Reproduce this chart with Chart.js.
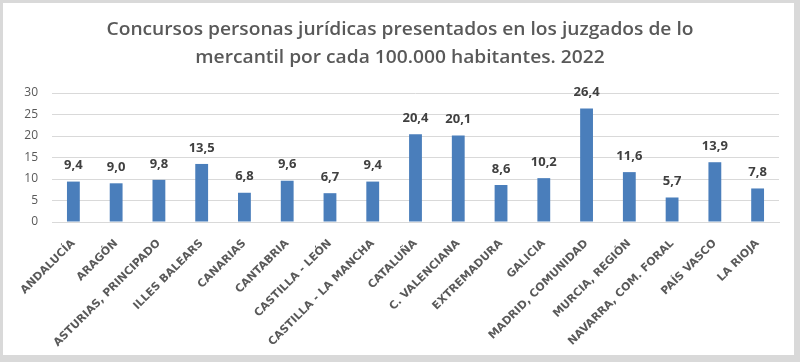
<!DOCTYPE html>
<html>
<head>
<meta charset="utf-8">
<script src="https://cdn.jsdelivr.net/npm/chart.js@4"></script>
<style>
    body { margin: 0; background: #d9d9d9; }
    #marco { position: absolute; left: 3px; top: 3px; width: 791px; height: 352px; background: #fff; }
</style>
</head>
<body>
<div id="marco"><canvas id="myChart"></canvas></div>
<script>
// Datos del gráfico
const comunidades = ['ANDALUCÍA', 'ARAGÓN', 'ASTURIAS, PRINCIPADO', 'ILLES BALEARS', 'CANARIAS', 'CANTABRIA',
    'CASTILLA - LEÓN', 'CASTILLA - LA MANCHA', 'CATALUÑA', 'C. VALENCIANA', 'EXTREMADURA', 'GALICIA',
    'MADRID, COMUNIDAD', 'MURCIA, REGIÓN', 'NAVARRA, COM. FORAL', 'PAÍS VASCO', 'LA RIOJA'];
const concursos = [9.4, 9.0, 9.8, 13.5, 6.8, 9.6, 6.7, 9.4, 20.4, 20.1, 8.6, 10.2, 26.4, 11.6, 5.7, 13.9, 7.8];
const ticksY = [0, 5, 10, 15, 20, 25, 30];
const titulo = ['Concursos personas jurídicas presentados en los juzgados de lo',
    'mercantil por cada 100.000 habitantes. 2022'];

const gris = '#595959';

// Título dibujado a mano para controlar la posición
const tituloPlugin = {
    id: 'tituloPlugin',
    afterDraw(chart) {
        const ctx = chart.ctx;
        ctx.save();
        ctx.fillStyle = gris;
        ctx.textAlign = 'center';
        ctx.textBaseline = 'middle';
        // letra algo más alta y estrecha (tipo Calibri): se comprime en horizontal
        ctx.font = '600 18px "Open Sans"';
        const k = 587 / ctx.measureText(titulo[0]).width;
        ctx.translate(397, 0);
        ctx.scale(k, 1);
        ctx.fillText(titulo[0], 0, 27);
        ctx.fillText(titulo[1], 0, 55);
        ctx.restore();
    }
};

// Etiquetas de valor encima de cada barra
const etiquetasPlugin = {
    id: 'etiquetasPlugin',
    afterDatasetsDraw(chart) {
        const ctx = chart.ctx;
        const meta = chart.getDatasetMeta(0);
        ctx.save();
        ctx.fillStyle = '#404040';
        ctx.font = 'bold 13px "Open Sans"';
        ctx.textAlign = 'center';
        ctx.textBaseline = 'middle';
        meta.data.forEach((bar, i) => {
            ctx.fillText(concursos[i].toFixed(1).replace('.', ','), bar.x, bar.y - 16);
        });
        ctx.restore();
    }
};

const ctx = document.getElementById('myChart').getContext('2d');
const myChart = new Chart(ctx, {
    type: 'bar',
    data: {
        labels: comunidades,
        datasets: [{
            data: concursos,
            backgroundColor: '#4A7EBB',
            barPercentage: 0.3,
            categoryPercentage: 1
        }]
    },
    options: {
        responsive: true,
        maintainAspectRatio: false,
        animation: false,
        layout: { padding: { top: 90, right: 15, left: 0, bottom: 0 } },
        plugins: {
            legend: { display: false },
            title: { display: false },
            tooltip: { enabled: false }
        },
        scales: {
            x: {
                grid: { display: false },
                border: { color: '#d9d9d9' },
                ticks: {
                    color: gris,
                    font: { family: 'DejaVu Sans', weight: 'bold', size: 11 },
                    minRotation: 45,
                    maxRotation: 45,
                    autoSkip: false,
                    padding: 7
                },
                afterFit(scale) { scale.height = 133; }
            },
            y: {
                min: 0,
                max: 30,
                afterBuildTicks(scale) { scale.ticks = ticksY.map(v => ({ value: v })); },
                grid: { color: '#d9d9d9', drawTicks: false },
                border: { display: false },
                ticks: {
                    color: gris,
                    font: { family: 'Open Sans', size: 12 },
                    padding: 14
                },
                afterFit(scale) { scale.width = 49; }
            }
        }
    },
    plugins: [tituloPlugin, etiquetasPlugin]
});
</script>
</body>
</html>
